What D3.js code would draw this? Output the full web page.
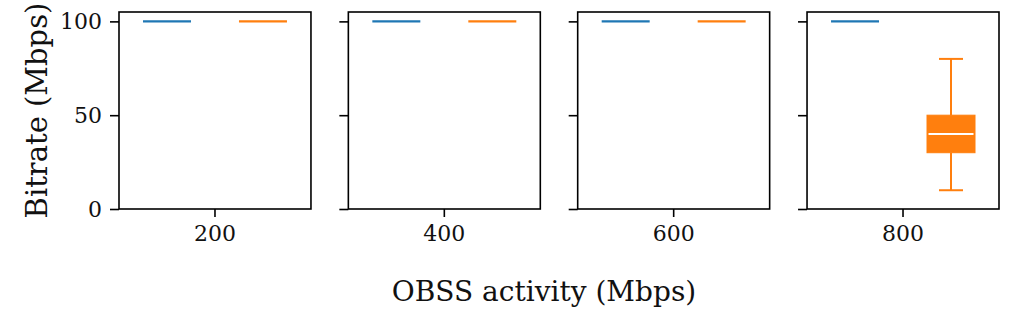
<!DOCTYPE html>
<html>
<head>
<meta charset="utf-8">
<script src="https://cdn.jsdelivr.net/npm/d3@7"></script>
<style>
  html, body { margin: 0; padding: 0; background: #fff; }
  svg { display: block; font-family: "DejaVu Serif", serif; }
</style>
</head>
<body>
<svg id="chart" width="1017" height="325"></svg>
<script>
// ---- data ----
const categories = ["200", "400", "600", "800"];
const seriesNames = ["A", "B"];
const seriesColors = ["#1f77b4", "#ff7f0e"];
// box stats per category: [whiskerLow, q1, median, q3, whiskerHigh]
const seriesA = [
  [100, 100, 100, 100, 100],
  [100, 100, 100, 100, 100],
  [100, 100, 100, 100, 100],
  [100, 100, 100, 100, 100]
];
const seriesB = [
  [100, 100, 100, 100, 100],
  [100, 100, 100, 100, 100],
  [100, 100, 100, 100, 100],
  [10, 30, 40, 50, 80]
];
const yTicks = [0, 50, 100];
const yLabel = "Bitrate (Mbps)";
const xLabel = "OBSS activity (Mbps)";

// ---- layout ----
const svg = d3.select("#chart");
const plotTop = 12, plotBottom = 209;
const panelBand = d3.scaleBand().domain(categories).range([119, 999]).paddingInner(0.163);
const y = d3.scaleLinear().domain([0, 105]).range([plotBottom, plotTop]);
const offsets = [-0.5, 0.5];
const boxW = 0.5;
const allSeries = [seriesA, seriesB];

categories.forEach((cat, ci) => {
  const left = panelBand(cat);
  const bw = panelBand.bandwidth();
  const x = d3.scaleLinear().domain([-1, 1]).range([left, left + bw]);
  const g = svg.append("g");

  // boxes
  allSeries.forEach((ser, si) => {
    const [lo, q1, med, q3, hi] = ser[ci];
    const cx = x(offsets[si]);
    const x0 = x(offsets[si] - boxW / 2), x1 = x(offsets[si] + boxW / 2);
    const capHalf = (x1 - x0) / 4;
    const col = seriesColors[si];
    const bg = g.append("g");
    const isFlat = (hi - lo) === 0;
    if (isFlat) {
      bg.append("line").attr("x1", x0).attr("x2", x1)
        .attr("y1", y(med)).attr("y2", y(med))
        .attr("stroke", col).attr("stroke-width", 2.2);
      return;
    }
    // whiskers
    bg.append("line").attr("x1", cx).attr("x2", cx).attr("y1", y(q3)).attr("y2", y(hi))
      .attr("stroke", col).attr("stroke-width", 2);
    bg.append("line").attr("x1", cx).attr("x2", cx).attr("y1", y(q1)).attr("y2", y(lo))
      .attr("stroke", col).attr("stroke-width", 2);
    // caps
    [lo, hi].forEach(v => {
      bg.append("line").attr("x1", cx - capHalf).attr("x2", cx + capHalf)
        .attr("y1", y(v)).attr("y2", y(v)).attr("stroke", col).attr("stroke-width", 2);
    });
    // box
    bg.append("rect").attr("x", x0).attr("y", y(q3))
      .attr("width", x1 - x0).attr("height", y(q1) - y(q3))
      .attr("fill", col).attr("stroke", col).attr("stroke-width", 1);
    // median
    bg.append("line").attr("x1", x0 + 1.5).attr("x2", x1 - 1.5)
      .attr("y1", y(med)).attr("y2", y(med))
      .attr("stroke", "#fff").attr("stroke-width", 2);
  });

  // y axis
  const yAxis = d3.axisLeft(y).tickValues(yTicks).tickSize(9).tickPadding(8)
    .tickFormat(ci === 0 ? d3.format("d") : () => "");
  const ya = g.append("g").attr("transform", `translate(${left},0)`).call(yAxis);
  ya.select(".domain").remove();
  ya.selectAll("line").attr("stroke", "#000").attr("stroke-width", 1.6);
  ya.selectAll("text").attr("font-size", 22).attr("fill", "#111").attr("font-family", "DejaVu Serif");

  // x axis
  const xb = d3.scaleBand().domain([cat]).range([left, left + bw]);
  const xAxis = d3.axisBottom(xb).tickSize(8).tickPadding(8);
  const xa = g.append("g").attr("transform", `translate(0,${plotBottom})`).call(xAxis);
  xa.select(".domain").remove();
  xa.selectAll("line").attr("stroke", "#000").attr("stroke-width", 1.6);
  xa.selectAll("text").attr("font-size", 22).attr("fill", "#111").attr("font-family", "DejaVu Serif");

  // frame
  g.append("rect").attr("x", left).attr("y", plotTop)
    .attr("width", bw).attr("height", plotBottom - plotTop)
    .attr("fill", "none").attr("stroke", "#000").attr("stroke-width", 1.6);
});

// axis labels
svg.append("text").attr("x", 544).attr("y", 301)
  .attr("text-anchor", "middle").attr("font-size", 28).attr("fill", "#111")
  .text(xLabel);
svg.append("text").attr("transform", `translate(47,${(plotTop + plotBottom) / 2}) rotate(-90)`)
  .attr("text-anchor", "middle").attr("font-size", 29).attr("fill", "#111")
  .text(yLabel);
</script>
</body>
</html>
